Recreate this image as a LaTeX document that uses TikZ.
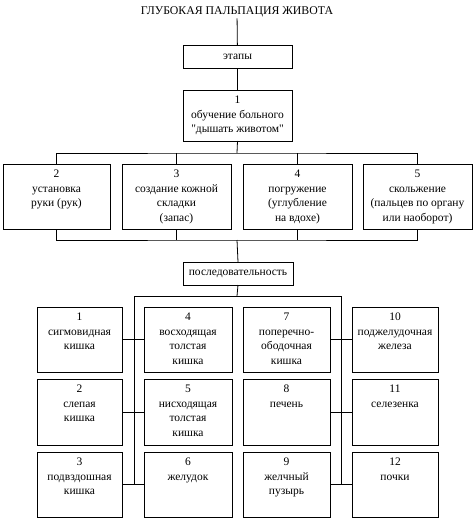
\documentclass[tikz,border=0pt]{standalone}
\usepackage{fontspec}
\setmainfont{Liberation Serif}
\newcommand\tb[3]{\parbox[c][#2pt][t]{#1pt}{\centering\rule{0pt}{13.5pt}#3}}
\begin{document}
\begin{tikzpicture}[x=1pt,y=-1pt,
  conn/.style={draw=black, line width=0.8pt},
  frame/.style={draw=black, line width=0.8pt, inner sep=0pt, outer sep=0pt, anchor=north west, font=\fontsize{11.5}{14.5}\selectfont},
  single/.style={frame, align=center}]
\useasboundingbox[fill=white] (0,0) rectangle (474,519);
\node[font=\fontsize{11.8}{13}\selectfont, inner sep=1pt] (title) at (237,12) {ГЛУБОКАЯ ПАЛЬПАЦИЯ ЖИВОТА};
\node[single, minimum width=109pt, minimum height=23pt] (etapy) at (183,45) {этапы};
\node[frame] (s1) at (183,90) {\tb{109}{51}{1\\обучение больного\\\textquotedbl дышать животом\textquotedbl}};
\node[frame] (s2) at (3,164) {\tb{107}{65}{2\\установка\\руки (рук)}};
\node[frame] (s3) at (122,164) {\tb{109}{65}{3\\создание кожной\\складки\\(запас)}};
\node[frame] (s4) at (243,164) {\tb{109}{65}{4\\погружение\\(углубление\\на вдохе)}};
\node[frame] (s5) at (363,164) {\tb{109}{65}{5\\скольжение\\(пальцев по органу\\или наоборот)}};
\node[single, minimum width=110pt, minimum height=23pt] (seq) at (183,262) {последовательность};
% grid
\node[frame] (b11) at (37,307) {\tb{85}{65}{1\\сигмовидная\\кишка}};
\node[frame] (b12) at (37,379) {\tb{85}{66}{2\\слепая\\кишка}};
\node[frame] (b13) at (37,452) {\tb{85}{65}{3\\подвздошная\\кишка}};
\node[frame] (b21) at (144,307) {\tb{88}{65}{4\\восходящая\\толстая\\кишка}};
\node[frame] (b22) at (144,379) {\tb{88}{66}{5\\нисходящая\\толстая\\кишка}};
\node[frame] (b23) at (144,452) {\tb{88}{65}{6\\желудок}};
\node[frame] (b31) at (243,307) {\tb{87}{65}{7\\поперечно-\\ободочная\\кишка}};
\node[frame] (b32) at (243,379) {\tb{87}{66}{8\\печень}};
\node[frame] (b33) at (243,452) {\tb{87}{65}{9\\желчный\\пузырь}};
\node[frame] (b41) at (352,307) {\tb{86}{65}{10\\поджелудочная\\железа}};
\node[frame] (b42) at (352,379) {\tb{86}{66}{11\\селезенка}};
\node[frame] (b43) at (352,452) {\tb{86}{65}{12\\почки}};
% junctions
\coordinate (j1) at (237,153);
\coordinate (j2) at (237,240);
\coordinate (j3) at (237,296);
\coordinate (tl) at (134,296);
\coordinate (tr) at (341,296);
% connectors
\draw[conn] (title) -- (etapy);
\draw[conn] (etapy) -- (s1);
\draw[conn] (s1.south) -- (j1);
\draw[conn] (s2.north) |- (j1) -| (s5.north);
\draw[conn] (s3.north) -- (s3.north |- j1);
\draw[conn] (s4.north) -- (s4.north |- j1);
\draw[conn] (s2.south) |- (j2) -| (s5.south);
\draw[conn] (s3.south) -- (s3.south |- j2);
\draw[conn] (s4.south) -- (s4.south |- j2);
\draw[conn] (j2) -- (seq.north);
\draw[conn] (seq.south) -- (j3);
\draw[conn] (tl) -- (tr);
\draw[conn] (tl) -- (tl |- b13.east);
\draw[conn] (tr) -- (tr |- b43.west);
\draw[conn] (b11.east) -- (b21.west);
\draw[conn] (b12.east) -- (b22.west);
\draw[conn] (b13.east) -- (b23.west);
\draw[conn] (b31.east) -- (b41.west);
\draw[conn] (b32.east) -- (b42.west);
\draw[conn] (b33.east) -- (b43.west);
\end{tikzpicture}
\end{document}
